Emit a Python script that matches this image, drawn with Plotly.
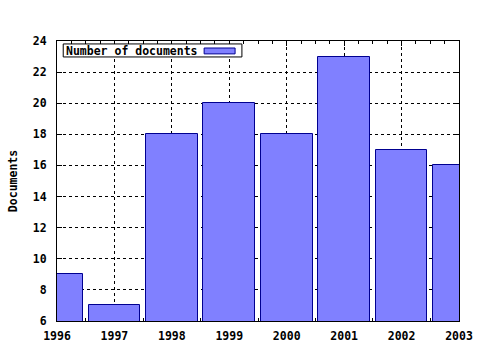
import plotly.graph_objects as go

years = [1996, 1997, 1998, 1999, 2000, 2001, 2002, 2003]
documents = [9, 7, 18, 20, 18, 23, 17, 16]
series_name = "Number of documents"
y_title = "Documents"
y_ticks = [6, 8, 10, 12, 14, 16, 18, 20, 22, 24]

FONT = dict(family="DejaVu Sans Mono", size=11.5, color="black")
BAR_FILL = "#8080ff"
BAR_EDGE = "#000090"

fig = go.Figure()
fig.add_trace(go.Bar(
    x=years, y=documents, name=series_name, width=0.9,
    marker=dict(color=BAR_FILL, line=dict(color=BAR_EDGE, width=1)),
    base=0, showlegend=False,
))

axis_common = dict(
    showline=True, linecolor="black", linewidth=1, mirror="ticks",
    ticks="inside", ticklen=5, tickcolor="black", tickwidth=1,
    showgrid=True, gridcolor="black", gridwidth=1, griddash="dot",
    zeroline=False, automargin=False,
    tickfont=dict(family="DejaVu Sans Mono", size=11.5, color="black", weight="bold"),
    layer="below traces",
)

fig.update_xaxes(
    range=[1996, 2003], tickmode="array", tickvals=years,
    ticktext=[str(y) for y in years],
    minor=dict(dtick=0.25, tick0=1996, ticks="inside", ticklen=3, tickcolor="black", showgrid=False),
    ticklabelstandoff=4,
    **axis_common,
)
fig.update_yaxes(
    range=[6, 24], tickmode="array", tickvals=y_ticks,
    ticktext=[str(v) for v in y_ticks],
    ticklabelstandoff=7,
    title=dict(text="<b>" + y_title + "</b>", font=dict(family="DejaVu Sans Mono", size=11.5, color="black"), standoff=12),
    **axis_common,
)

# legend (gnuplot-style: text left, swatch right)
fig.add_shape(
    type="rect", xref="paper", yref="paper",
    x0=0.0155, x1=0.46, y0=0.943, y1=0.9895,
    fillcolor="white", line=dict(color="black", width=1),
)
fig.add_shape(
    type="rect", xref="paper", yref="paper",
    x0=0.366, x1=0.443, y0=0.954, y1=0.975,
    fillcolor=BAR_FILL, line=dict(color=BAR_EDGE, width=1),
)
fig.add_annotation(
    xref="paper", yref="paper", x=0.018, y=0.966, xanchor="left", yanchor="middle",
    text="<b>" + series_name + "</b>", showarrow=False,
    font=FONT,
)

fig.update_layout(
    width=480, height=350,
    margin=dict(l=57, r=21, t=41, b=29),
    paper_bgcolor="white", plot_bgcolor="white",
    bargap=0, font=FONT,
)

fig.write_html("out.html")
